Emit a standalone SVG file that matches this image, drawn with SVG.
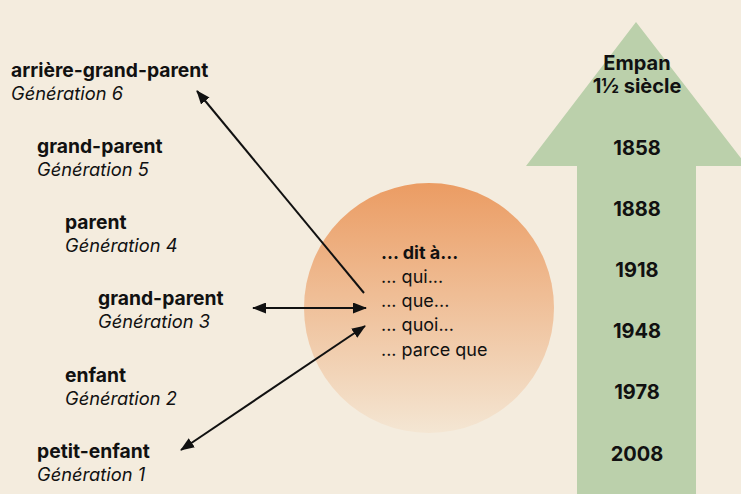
<svg xmlns="http://www.w3.org/2000/svg" width="741" height="494" viewBox="0 0 741 494">
<defs>
<linearGradient id="g" x1="0" y1="0" x2="0" y2="1">
<stop offset="0" stop-color="#EB9C63"/>
<stop offset="1" stop-color="#F4E6D3"/>
</linearGradient>
<marker id="ah" viewBox="0 0 14 11" refX="13" refY="5.5" markerWidth="14" markerHeight="11" markerUnits="userSpaceOnUse" orient="auto-start-reverse">
<path d="M0,0 L14,5.5 L0,11 Z" fill="#111"/>
</marker>
<style>
text{font-family:Inter,"Liberation Sans",sans-serif;fill:#111;}
.b{font-weight:700;font-size:19.3px;}
.i{font-style:italic;font-size:18.3px;}
.c{font-size:18px;}
.y{font-weight:700;font-size:20px;text-anchor:middle;}
.l{stroke:#111;stroke-width:2;fill:none;}
</style>
</defs>
<rect width="741" height="494" fill="#F4ECDE"/>
<g id="timeline">
<path d="M636,22 L747,166 L696,166 L696,494 L577,494 L577,166 L526,166 Z" fill="#BBD0AB"/>
<text class="y" x="637" y="70">Empan</text>
<text class="y" x="637" y="93">1½ siècle</text>
<text class="y" x="637" y="155">1858</text>
<text class="y" x="637" y="216">1888</text>
<text class="y" x="637" y="277">1918</text>
<text class="y" x="637" y="338">1948</text>
<text class="y" x="637" y="399">1978</text>
<text class="y" x="637" y="461">2008</text>
</g>
<g id="center">
<circle cx="429" cy="308" r="125" fill="url(#g)"/>
<text class="b" x="381" y="259" style="font-size:18px">... dit à...</text>
<text class="c" x="381" y="283">... qui...</text>
<text class="c" x="381" y="307">... que...</text>
<text class="c" x="381" y="331">... quoi...</text>
<text class="c" x="381" y="356">... parce que</text>
</g>
<g id="gen6"><text class="b" x="11" y="77">arrière-grand-parent</text><text class="i" x="11" y="100">Génération 6</text></g>
<g id="gen5"><text class="b" x="37" y="153">grand-parent</text><text class="i" x="37" y="176">Génération 5</text></g>
<g id="gen4"><text class="b" x="65" y="229">parent</text><text class="i" x="65" y="252">Génération 4</text></g>
<g id="gen3"><text class="b" x="98" y="305">grand-parent</text><text class="i" x="98" y="328">Génération 3</text></g>
<g id="gen2"><text class="b" x="65" y="382">enfant</text><text class="i" x="65" y="405">Génération 2</text></g>
<g id="gen1"><text class="b" x="37" y="458">petit-enfant</text><text class="i" x="37" y="481">Génération 1</text></g>
<g id="connectors">
<line class="l" x1="364" y1="293" x2="197" y2="91" marker-end="url(#ah)"/>
<line class="l" x1="253" y1="308" x2="366" y2="308" marker-start="url(#ah)" marker-end="url(#ah)"/>
<line class="l" x1="181" y1="450" x2="365" y2="326" marker-start="url(#ah)" marker-end="url(#ah)"/>
</g>
</svg>
